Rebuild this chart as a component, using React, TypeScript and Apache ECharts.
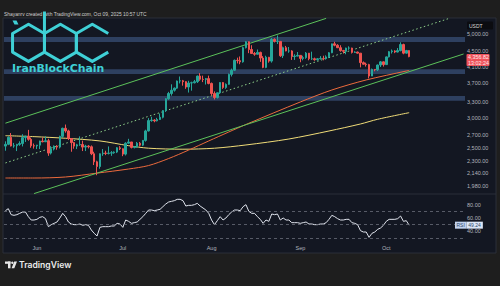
import React, { useEffect, useRef } from 'react';
import * as echarts from 'echarts';

// ---------- data ----------
const START_Y = 2025, START_M = 4, START_D = 21; // 2025-05-21
const N_DAYS = 161;
const dates: string[] = [];
for (let i = 0; i < N_DAYS; i++) {
  dates.push(new Date(Date.UTC(START_Y, START_M, START_D + i)).toISOString().slice(0, 10));
}
const monthNames = ['Jan', 'Feb', 'Mar', 'Apr', 'May', 'Jun', 'Jul', 'Aug', 'Sep', 'Oct', 'Nov', 'Dec'];

// daily ETH/USDT [open, close, low, high] from 2025-05-21
const ohlc: number[][] = [
  [2525, 2553, 2455, 2600], [2553, 2664, 2540, 2680], [2664, 2527, 2520, 2735], [2527, 2531, 2500, 2575],
  [2531, 2552, 2450, 2560], [2552, 2565, 2530, 2600], [2565, 2660, 2520, 2715], [2660, 2682, 2590, 2690],
  [2682, 2632, 2610, 2788], [2632, 2530, 2500, 2660], [2530, 2528, 2487, 2565],
  // Jun
  [2528, 2540, 2480, 2545], [2540, 2605, 2480, 2610], [2605, 2593, 2585, 2660], [2593, 2610, 2590, 2680],
  [2610, 2420, 2380, 2640], [2420, 2480, 2400, 2525], [2480, 2525, 2460, 2535], [2525, 2510, 2470, 2540],
  [2510, 2680, 2490, 2690], [2680, 2815, 2655, 2825], [2815, 2770, 2740, 2880], [2770, 2645, 2620, 2790],
  [2645, 2580, 2440, 2650], [2580, 2525, 2485, 2590], [2525, 2545, 2480, 2560], [2545, 2550, 2530, 2680],
  [2550, 2510, 2450, 2610], [2510, 2525, 2450, 2545], [2525, 2515, 2490, 2540], [2515, 2410, 2390, 2535],
  [2410, 2295, 2250, 2440], [2295, 2230, 2115, 2310], [2230, 2410, 2200, 2415], [2410, 2420, 2380, 2480],
  [2420, 2415, 2390, 2455], [2415, 2420, 2400, 2520], [2420, 2425, 2380, 2450], [2425, 2435, 2410, 2445],
  [2435, 2500, 2420, 2510], [2500, 2485, 2465, 2525],
  // Jul
  [2485, 2405, 2375, 2490], [2405, 2570, 2385, 2585], [2570, 2590, 2560, 2640], [2590, 2505, 2490, 2590],
  [2505, 2515, 2490, 2525], [2515, 2570, 2500, 2590], [2570, 2540, 2520, 2590], [2540, 2615, 2525, 2620],
  [2615, 2770, 2595, 2790], [2770, 2950, 2760, 2995], [2950, 2960, 2930, 3020], [2960, 2945, 2920, 2975],
  [2945, 2970, 2935, 3000], [2970, 3010, 2960, 3080], [3010, 3135, 2990, 3145], [3135, 3370, 3110, 3385],
  [3370, 3480, 3350, 3515], [3480, 3550, 3435, 3680], [3550, 3595, 3520, 3610], [3595, 3755, 3580, 3765],
  [3755, 3760, 3700, 3860], [3760, 3740, 3650, 3780], [3740, 3620, 3580, 3750], [3620, 3710, 3500, 3760],
  [3710, 3715, 3540, 3740], [3715, 3740, 3700, 3780], [3740, 3870, 3710, 3880], [3870, 3795, 3760, 3940],
  [3795, 3790, 3730, 3880], [3790, 3810, 3675, 3825], [3810, 3700, 3680, 3880],
  // Aug
  [3700, 3480, 3440, 3720], [3480, 3395, 3355, 3525], [3395, 3495, 3375, 3500], [3495, 3720, 3480, 3730],
  [3720, 3610, 3580, 3730], [3610, 3680, 3580, 3700], [3680, 3910, 3670, 3930], [3910, 4010, 3860, 4050],
  [4010, 4260, 3990, 4280], [4260, 4250, 4180, 4330], [4250, 4220, 4160, 4360], [4220, 4600, 4200, 4630],
  [4600, 4770, 4580, 4790], [4770, 4550, 4450, 4780], [4550, 4440, 4430, 4670], [4440, 4420, 4380, 4480],
  [4420, 4470, 4415, 4550], [4470, 4320, 4220, 4490], [4320, 4080, 4060, 4370], [4080, 4340, 4060, 4380],
  [4340, 4240, 4200, 4350], [4240, 4840, 4200, 4880], [4840, 4780, 4750, 4870], [4780, 4780, 4705, 4955],
  [4780, 4380, 4350, 4790], [4380, 4600, 4320, 4630], [4600, 4510, 4500, 4650], [4510, 4510, 4460, 4620],
  [4510, 4360, 4270, 4530], [4360, 4370, 4270, 4420], [4370, 4390, 4365, 4480],
  // Sep
  [4390, 4310, 4210, 4400], [4310, 4330, 4260, 4380], [4330, 4450, 4300, 4480], [4450, 4300, 4260, 4455],
  [4300, 4300, 4270, 4490], [4300, 4275, 4250, 4330], [4275, 4300, 4250, 4320], [4300, 4310, 4280, 4370],
  [4310, 4305, 4260, 4380], [4305, 4350, 4280, 4390], [4350, 4460, 4320, 4480], [4460, 4710, 4450, 4715],
  [4710, 4670, 4640, 4770], [4670, 4600, 4590, 4700], [4600, 4520, 4490, 4670], [4520, 4500, 4440, 4540],
  [4500, 4590, 4420, 4600], [4590, 4590, 4540, 4640], [4590, 4470, 4440, 4600], [4470, 4480, 4460, 4500],
  [4480, 4450, 4440, 4490], [4450, 4200, 4080, 4450], [4200, 4160, 4150, 4230], [4160, 4150, 4100, 4200],
  [4150, 3870, 3815, 4170], [3870, 4030, 3870, 4050], [4030, 4020, 3985, 4040], [4020, 4140, 3990, 4150],
  [4140, 4220, 4090, 4240], [4220, 4150, 4100, 4230],
  // Oct
  [4150, 4350, 4140, 4360], [4350, 4490, 4335, 4510], [4490, 4510, 4440, 4550], [4510, 4480, 4450, 4530],
  [4480, 4520, 4470, 4590], [4520, 4690, 4500, 4755], [4690, 4450, 4420, 4715], [4450, 4520, 4440, 4540],
  [4520, 4356.82, 4340, 4530],
];

// slow moving average (yellow)
const maYellow: [string, number][] = [
  ['2025-05-21', 2691], ['2025-05-31', 2675], ['2025-06-11', 2649], ['2025-06-23', 2606],
  ['2025-07-03', 2532], ['2025-07-10', 2493], ['2025-07-22', 2478], ['2025-08-02', 2493],
  ['2025-08-13', 2543], ['2025-08-28', 2637], ['2025-09-11', 2769], ['2025-09-22', 2890],
  ['2025-09-28', 2974], ['2025-10-09', 3096],
];
// faster moving average (orange)
const maOrange: [string, number][] = [
  ['2025-05-21', 2079], ['2025-05-31', 2079], ['2025-06-11', 2092], ['2025-06-22', 2142],
  ['2025-07-03', 2196], ['2025-07-10', 2243], ['2025-07-17', 2341], ['2025-07-24', 2465],
  ['2025-07-31', 2606], ['2025-08-07', 2752], ['2025-08-13', 2881], ['2025-09-01', 3305],
  ['2025-09-12', 3555], ['2025-09-24', 3779], ['2025-10-08', 3991], ['2025-10-09', 4005],
];
// channel trend lines
const upperLine: [string, number][] = [['2025-05-21', 2904], ['2025-09-10', 5500]];
const midLine: [string, number][] = [['2025-05-21', 2279], ['2025-10-23', 5500]];
const lowerLine: [string, number][] = [['2025-05-31', 1891], ['2025-10-28', 4427]];
// horizontal zones [low, high]
const zones: [number, number][] = [[4760, 4909], [3916, 4037], [3331, 3425]];
const priceTicks = [5000, 4500, 4100, 3700, 3300, 3000, 2700, 2500, 2300, 2140, 1980];

// RSI(14) daily values
const rsi: number[] = [
  71, 74, 65, 64, 65, 67, 69, 69, 62, 57, 57,
  58, 61, 62, 59, 47, 50, 52, 54, 60, 67, 62, 54, 51, 50, 50, 51, 49, 50, 49, 42, 37, 33, 46, 47, 47, 47, 48, 48, 52, 51,
  46, 57, 55, 52, 53, 54, 58, 62, 67, 72, 72, 71, 72, 73, 77, 81, 84, 85, 86, 88, 88, 86, 78, 79, 79, 80, 82, 78, 75, 72, 67,
  57, 50, 56, 62, 57, 60, 65, 69, 72, 72, 71, 77, 80, 70, 67, 67, 62, 58, 52, 57, 55, 66, 65, 66, 57, 60, 57, 57, 53, 53, 53,
  52, 53, 54, 51, 51, 50, 50, 51, 51, 53, 58, 64, 62, 59, 57, 57, 58, 58, 53, 52, 50, 41, 39, 39, 31, 37, 39, 43, 45, 49,
  55, 58, 58, 58, 59, 63, 55, 56, 49.24,
];
const rsiLevels = [70, 50, 30];
const rsiTicks = [80, 60, 40];
const lastPrice = 4356.82;
const lastRsi = 49.24;

// ---------- styles ----------
const FONT = '"Liberation Sans", Arial, sans-serif';
const AXIS_TXT = '#b2b5be';
const UP = '#26a69a';
const DOWN = '#ef5350';
const TEAL = '#3fd0d6';

const fmt = (v: number) => v.toLocaleString('en-US', { minimumFractionDigits: 2, maximumFractionDigits: 2 });

function hexPts(cx: number, cy: number, w: number, r: number): number[][] {
  const hw = w / 2, hr = r / 2;
  return [[cx, cy - r], [cx + hw, cy - hr], [cx + hw, cy + hr], [cx, cy + r], [cx - hw, cy + hr], [cx - hw, cy - hr]];
}

function buildOption(): any {
  const W = 31.9, R = 18.6, CY = 42.8;
  const h1 = hexPts(28.5, CY, W, R);
  const h2 = hexPts(60.4, CY, W, R);
  const h3 = hexPts(92.3, CY, W, R);
  const logoStroke = { stroke: TEAL, lineWidth: 3, fill: 'none', lineJoin: 'round' };

  const graphic: any[] = [
    { type: 'rect', z: -10, shape: { x: 3, y: 18, width: 493, height: 235 }, style: { fill: '#131722', stroke: '#2a2e39', lineWidth: 1 } },
    { type: 'line', z: -9, shape: { x1: 3, y1: 194, x2: 496, y2: 194 }, style: { stroke: '#2a2e39', lineWidth: 1 } },
    { type: 'text', z: 50, x: 4, y: 14, style: { text: 'Shayanrv created with TradingView.com, Oct 09, 2025 10:57 UTC', fill: '#cfcfcf', fontSize: 4.9, fontFamily: FONT, verticalAlign: 'middle' } },
    // USDT box
    { type: 'rect', z: 50, shape: { x: 467, y: 21.5, width: 26, height: 8, r: 1 }, style: { fill: '#0b0c10' } },
    { type: 'text', z: 51, x: 469, y: 25.6, style: { text: 'USDT', fill: '#d8d8d8', fontSize: 5, fontFamily: FONT, verticalAlign: 'middle' } },
    // last price label
    { type: 'rect', z: 50, shape: { x: 466.5, y: 54, width: 23, height: 12, r: 1 }, style: { fill: '#f0525a' } },
    { type: 'text', z: 51, x: 468, y: 57.3, style: { text: fmt(lastPrice), fill: '#ffe9ea', fontSize: 5.4, fontFamily: FONT, verticalAlign: 'middle' } },
    { type: 'text', z: 51, x: 468, y: 63, style: { text: '13:02:24', fill: '#ffe9ea', fontSize: 5.4, fontFamily: FONT, verticalAlign: 'middle' } },
    // logo
    { type: 'polygon', z: 100, shape: { points: h1 }, style: logoStroke },
    { type: 'polygon', z: 100, shape: { points: h2 }, style: logoStroke },
    { type: 'polyline', z: 100, shape: { points: [h3[1], h3[0], h3[5], h3[4], h3[3], h3[2]] }, style: logoStroke },
    { type: 'line', z: 100, shape: { x1: 44.45, y1: 11.5, x2: 44.45, y2: 34 }, style: { stroke: TEAL, lineWidth: 3 } },
    { type: 'polygon', z: 100, shape: { points: [[12.5, 20.5], [16.5, 20.5], [18.5, 24.5], [14.5, 24.5]] }, style: { fill: TEAL } },
    { type: 'text', z: 100, x: 12, y: 68.8, style: { text: 'IranBlockChain', fill: TEAL, fontSize: 10.9, fontWeight: 'bold', fontFamily: '"DejaVu Sans", sans-serif', verticalAlign: 'middle' } },
    // TradingView footer logo
    { type: 'rect', z: 50, shape: { x: 5, y: 261.5, width: 5.5, height: 2.3 }, style: { fill: '#e6e6e6' } },
    { type: 'rect', z: 50, shape: { x: 8, y: 261.5, width: 2.5, height: 6.8 }, style: { fill: '#e6e6e6' } },
    { type: 'circle', z: 50, shape: { cx: 12.3, cy: 262.7, r: 1.2 }, style: { fill: '#e6e6e6' } },
    { type: 'polygon', z: 50, shape: { points: [[14.2, 261.5], [17, 261.5], [14.3, 268.3], [11.6, 268.3]] }, style: { fill: '#e6e6e6' } },
    { type: 'text', z: 50, x: 19, y: 265, style: { text: 'TradingView', fill: '#ececec', fontSize: 8.6, fontWeight: 600, fontFamily: 'Inter, sans-serif', verticalAlign: 'middle' } },
  ];

  const lineSeries = (data: [string, number][], color: string, extra: any = {}) => ({
    type: 'line', xAxisIndex: 0, yAxisIndex: 0, data, symbol: 'none', silent: true,
    lineStyle: { color, width: 1, ...(extra.lineStyle || {}) }, smooth: extra.smooth || false, z: extra.z || 3,
  });

  return {
    animation: false,
    backgroundColor: '#1e1e1e',
    textStyle: { fontFamily: FONT },
    graphic,
    grid: [
      { left: 4, right: 35, top: 18, height: 176 },
      { left: 4, right: 35, top: 194, height: 48 },
    ],
    xAxis: [
      { type: 'category', gridIndex: 0, data: dates, boundaryGap: true, axisLine: { show: false }, axisTick: { show: false }, axisLabel: { show: false }, splitLine: { show: false } },
      {
        type: 'category', gridIndex: 1, data: dates, boundaryGap: true, axisLine: { show: false }, axisTick: { show: false }, splitLine: { show: false },
        axisLabel: {
          show: true, color: AXIS_TXT, fontSize: 5.5, fontFamily: FONT, margin: 3,
          interval: (_i: number, v: string) => v.endsWith('-01'),
          formatter: (v: string) => monthNames[parseInt(v.slice(5, 7), 10) - 1],
        },
      },
    ],
    yAxis: [
      { type: 'log', logBase: 10, gridIndex: 0, min: 1886, max: 5513, axisLine: { show: false }, axisTick: { show: false }, axisLabel: { show: false }, splitLine: { show: false } },
      { type: 'value', gridIndex: 1, min: 24, max: 96, axisLine: { show: false }, axisTick: { show: false }, axisLabel: { show: false }, splitLine: { show: false } },
    ],
    series: [
      {
        type: 'candlestick', xAxisIndex: 0, yAxisIndex: 0, data: ohlc, barWidth: 2, z: 4,
        itemStyle: { color: UP, color0: DOWN, borderColor: UP, borderColor0: DOWN, borderWidth: 1 },
        markArea: {
          silent: true,
          itemStyle: { color: 'rgba(70, 98, 148, 0.55)' },
          data: zones.map(([a, b]) => [{ yAxis: a }, { yAxis: b }]),
        },
        markLine: {
          silent: true, symbol: 'none', animation: false,
          lineStyle: { color: 'rgba(0,0,0,0)', width: 0 },
          label: { show: true, position: 'end', distance: 2, color: AXIS_TXT, fontSize: 5.5, fontFamily: FONT },
          data: priceTicks.map((v) => ({ yAxis: v, label: { formatter: fmt(v) } })),
        },
      },
      lineSeries(maYellow, '#f0dc78', { smooth: 0.3 }),
      lineSeries(maOrange, '#ec6a3c', { smooth: 0.3 }),
      lineSeries(upperLine, '#5cc25a'),
      lineSeries(midLine, '#8fd08a', { lineStyle: { type: [1.5, 2.5] } }),
      lineSeries(lowerLine, '#5cc25a'),
      {
        type: 'line', xAxisIndex: 1, yAxisIndex: 1, data: rsi, symbol: 'none', silent: true, z: 4,
        lineStyle: { color: '#dfe3ec', width: 1 },
        markLine: {
          silent: true, symbol: 'none', animation: false,
          data: [
            ...rsiLevels.map((v) => ({ yAxis: v, lineStyle: { color: '#6a6d78', width: 0.8, type: [3, 3] }, label: { show: false } })),
            ...rsiTicks.map((v) => ({
              yAxis: v, lineStyle: { color: 'rgba(0,0,0,0)', width: 0 },
              label: { show: true, position: 'end', distance: 2, color: AXIS_TXT, fontSize: 5.5, fontFamily: FONT, formatter: fmt(v) },
            })),
            {
              yAxis: lastRsi, lineStyle: { color: 'rgba(0,0,0,0)', width: 0 },
              label: {
                show: true, position: 'end', distance: -10, fontSize: 5, fontFamily: FONT,
                formatter: '{a|RSI}{b|' + fmt(lastRsi) + '}',
                rich: {
                  a: { backgroundColor: '#c2d3ee', color: '#2c4668', padding: [1, 1.5, 1, 1.5], fontSize: 5, fontFamily: FONT },
                  b: { backgroundColor: '#dce6f6', color: '#2c4668', padding: [1, 2, 1, 2], fontSize: 5, fontFamily: FONT },
                },
              },
            },
          ],
        },
      },
    ],
  };
}

export default function App() {
  const ref = useRef<HTMLDivElement>(null);
  useEffect(() => {
    if (!ref.current) return;
    const chart = echarts.init(ref.current, null, { renderer: 'svg' });
    chart.setOption(buildOption());
    return () => chart.dispose();
  }, []);
  return <div ref={ref} style={{ position: 'absolute', left: 0, top: 0, width: 500, height: 286 }} />;
}
